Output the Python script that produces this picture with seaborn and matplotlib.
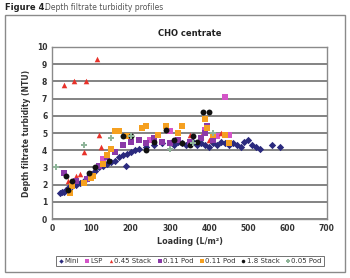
import matplotlib
matplotlib.use("Agg")
import matplotlib.pyplot as plt
import seaborn as sns
from matplotlib.patches import Rectangle

sns.set_theme(style="white")
plt.rcParams['font.family'] = ['DejaVu Sans']

# ---- data ----
mini_x = [20, 25, 30, 35, 40, 50, 60, 70, 80, 90, 100, 110, 120, 130, 140, 150, 160, 170, 180, 188,
          190, 200, 210, 220, 240, 260, 280, 300, 310, 320, 330, 340, 350, 360, 370, 380, 390,
          400, 410, 420, 430, 440, 450, 460, 470, 480, 490, 500, 510, 520, 530, 560, 580]
mini_y = [1.5, 1.55, 1.6, 1.7, 1.8, 1.9, 2.0, 2.1, 2.2, 2.4, 2.6, 2.8, 3.0, 3.1, 3.2, 3.3, 3.4, 3.6, 3.7, 3.1,
          3.8, 3.9, 4.0, 4.1, 4.2, 4.3, 4.4, 4.4, 4.3, 4.5, 4.4, 4.3, 4.4, 4.5, 4.3, 4.4, 4.3,
          4.2, 4.4, 4.3, 4.5, 4.4, 4.3, 4.4, 4.3, 4.2, 4.5, 4.6, 4.3, 4.2, 4.1, 4.3, 4.2]

lsp_x = [130, 250, 300, 390, 420, 440, 450]
lsp_y = [3.5, 4.6, 5.1, 5.2, 4.8, 7.1, 4.9]

s045_x = [30, 55, 85, 115, 120, 80, 125, 40, 60, 70, 300, 350, 380, 400, 430]
s045_y = [7.8, 8.0, 8.05, 9.3, 4.9, 3.9, 4.2, 2.2, 2.5, 2.6, 4.5, 4.9, 4.8, 4.6, 5.0]

pod011a_x = [30, 60, 90, 120, 140, 160, 180, 200, 220, 240, 260, 280, 300, 320, 350, 380, 390, 395, 410]
pod011a_y = [2.7, 2.2, 2.3, 3.1, 3.6, 3.9, 4.3, 4.5, 4.6, 4.4, 4.7, 4.5, 4.4, 4.6, 4.5, 4.7, 5.0, 5.4, 4.6]

pod011b_x = [45, 50, 80, 100, 105, 130, 140, 150, 160, 170, 190, 230, 240, 270, 290, 320, 330, 390, 395, 410, 440, 450]
pod011b_y = [1.5, 1.9, 2.1, 2.4, 2.5, 3.2, 3.7, 4.1, 5.1, 5.1, 4.8, 5.3, 5.4, 4.9, 5.4, 5.0, 5.4, 5.8, 5.3, 4.9, 4.9, 4.4]

s18_x = [35, 40, 50, 95, 110, 145, 180, 200, 240, 260, 290, 310, 330, 350, 360, 370, 385, 400]
s18_y = [2.5, 1.7, 2.2, 2.7, 3.0, 3.4, 4.8, 4.8, 4.0, 4.5, 5.2, 4.6, 4.4, 4.3, 4.8, 4.5, 6.2, 6.2]

pod005_x = [10, 80, 150, 200, 300, 360, 410]
pod005_y = [3.0, 4.3, 4.7, 4.8, 4.1, 4.4, 5.0]

series_labels = ["Mini", "LSP", "0.45 Stack", "0.11 Pod", "0.11 Pod", "1.8 Stack", "0.05 Pod"]
x_ticks = [0, 100, 200, 300, 400, 500, 600, 700]
y_ticks = [0, 1, 2, 3, 4, 5, 6, 7, 8, 9, 10]

# ---- styles ----
series = [
    (mini_x, mini_y, "#2b2a7e", "D", 14),
    (lsp_x, lsp_y, "#d455c8", "s", 13),
    (s045_x, s045_y, "#e8322a", "^", 16),
    (pod011a_x, pod011a_y, "#8b3aa8", "s", 22),
    (pod011b_x, pod011b_y, "#f5a020", "s", 20),
    (s18_x, s18_y, "#111111", "o", 18),
    (pod005_x, pod005_y, "#8fb59a", "P", 18),
]

fig = plt.figure(figsize=(3.5, 2.78), dpi=100)
ax = fig.add_axes([0.149, 0.212, 0.785, 0.619])

for (xs, ys, c, m, s), lab in zip(series, series_labels):
    sns.scatterplot(x=xs, y=ys, ax=ax, color=c, marker=m, s=s, linewidth=0,
                    label=lab, zorder=3)

ax.set_xlim(0, 700)
ax.set_ylim(0, 10)
ax.set_xticks(x_ticks)
ax.set_yticks(y_ticks)
ax.set_xticklabels([str(v) for v in x_ticks], fontsize=5.5, fontweight="bold", color="#333333")
ax.set_yticklabels([str(v) for v in y_ticks], fontsize=5.5, fontweight="bold", color="#333333")
ax.tick_params(axis="both", length=2, width=0.6, color="#777777", pad=1.5, direction="out")
ax.yaxis.grid(True, color="#7a7a7a", linewidth=1.3)
ax.set_axisbelow(True)
for sp in ax.spines.values():
    sp.set_color("#8a8a8a")
    sp.set_linewidth(1.0)
ax.set_xlabel("Loading (L/m²)", fontsize=5.8, fontweight="bold", color="#333333", labelpad=3)
ax.set_ylabel("Depth filtrate turbidity (NTU)", fontsize=5.5, fontweight="bold", color="#333333", labelpad=4)

leg = ax.legend(loc="center", bbox_to_anchor=(0.543, 0.061), bbox_transform=fig.transFigure,
                ncol=7, fontsize=5, frameon=True, handletextpad=0.1, columnspacing=0.75,
                borderpad=0.3, handlelength=0.8, markerscale=0.6, fancybox=False)
leg.get_frame().set_edgecolor("#333333")
leg.get_frame().set_linewidth(0.6)
for t in leg.get_texts():
    t.set_color("#333333")

# chart border and titles
fig.patches.append(Rectangle((5 / 350, 1 - 272 / 278), 340 / 350, 257 / 278,
                             transform=fig.transFigure, fill=False,
                             edgecolor="#8a8a8a", linewidth=1.0))
fig.text(190 / 350, 1 - 34 / 278, "CHO centrate", fontsize=6, fontweight="bold",
         color="#222222", ha="center", va="center")
fig.text(5 / 350, 1 - 7 / 278, "Figure 4.", fontsize=6, fontweight="bold",
         color="#222222", ha="left", va="center")
fig.text(45 / 350, 1 - 7 / 278, "Depth filtrate turbidity profiles", fontsize=5.5,
         color="#555555", ha="left", va="center")

fig.savefig("out.png", dpi=100)
